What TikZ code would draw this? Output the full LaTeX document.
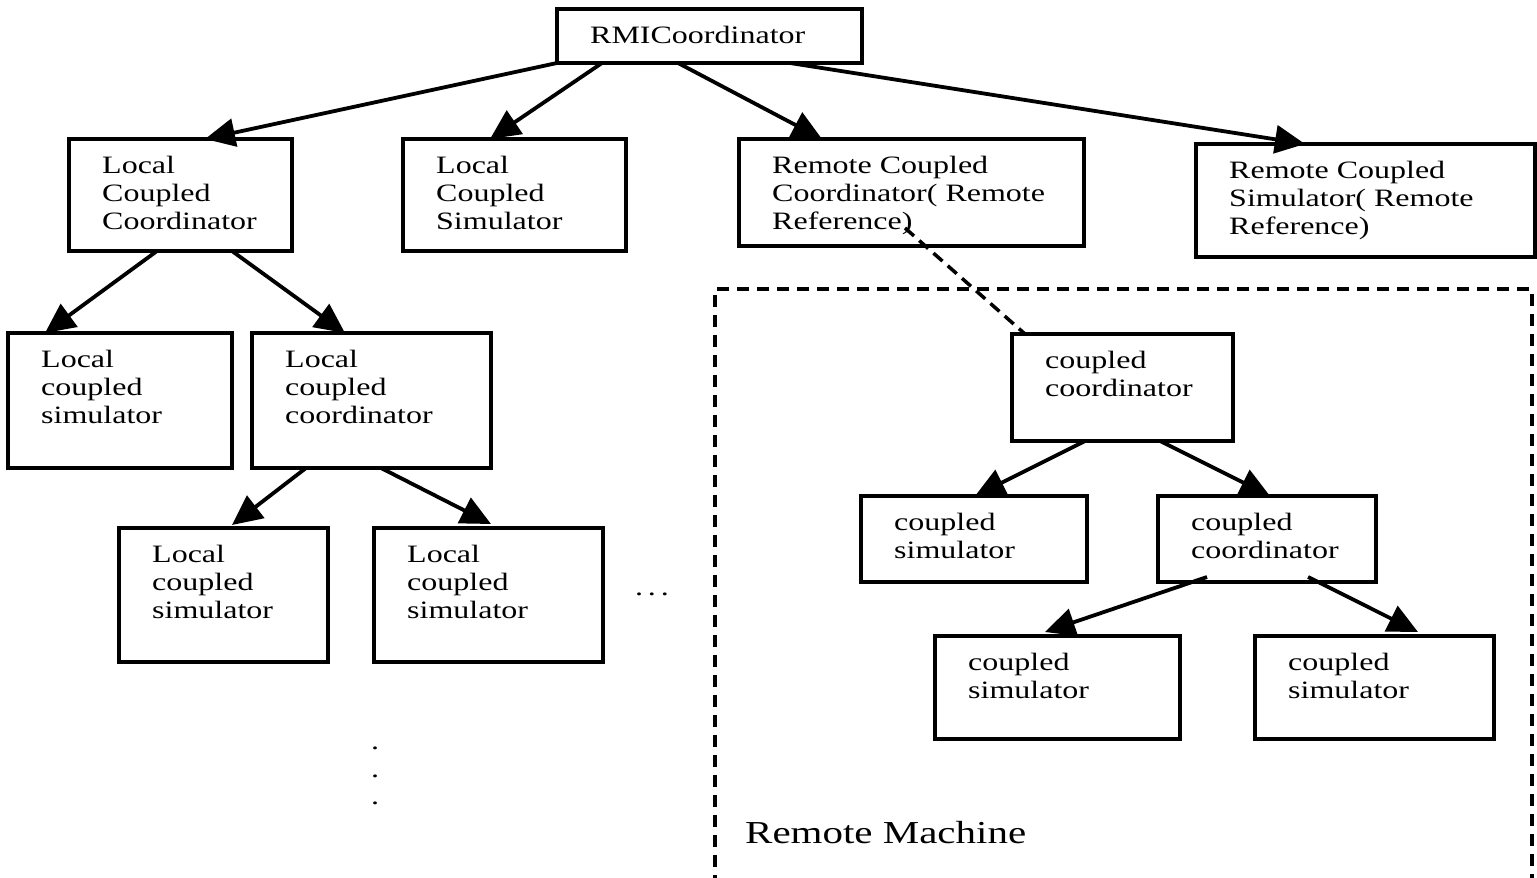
\documentclass[tikz,border=0pt]{standalone}
\usepackage{fontspec}
\setmainfont{Liberation Serif}[FakeStretch=1.28]
\usetikzlibrary{arrows.meta,calc}

\tikzset{
  box/.style={draw, line width=3.2pt, rectangle, inner sep=0pt, outer sep=0pt, anchor=north west},
  lbl/.style={anchor=north west, inner sep=0pt, align=left, font=\fontsize{25}{28}\selectfont},
  link/.style={line width=3.8pt, -{Triangle[length=30pt,width=28pt]}},
  remoteref/.style={line width=3.5pt, dash pattern=on 12pt off 7pt},
  region/.style={draw, line width=3.5pt, dash pattern=on 12pt off 8pt, rectangle, inner sep=0pt, anchor=north west},
}

% \unitbox{name}{x}{y}{width}{height}{text}
\newcommand\unitbox[6]{%
  \node[box, minimum width=#4pt, minimum height=#5pt] (#1) at (#2,#3) {};
  \node[lbl] (#1-t) at ($(#1.north west)+(33,17)$) {#6};
}

\begin{document}
\begin{tikzpicture}[x=1pt, y=-1pt]
  \useasboundingbox[fill=white] (0,0) rectangle (1537,878);

  % remote machine region (open at the bottom of the page)
  \node[region, minimum width=817pt, minimum height=640pt] (remote) at (713,287) {};
  \node[anchor=north west, inner sep=0pt, font=\fontsize{32}{36}\selectfont] (remote-t) at (745,821) {Remote Machine};

  % top level
  \unitbox{rmi}{557}{9}{305}{54}{RMICoordinator}
  \unitbox{lcc}{69}{139}{223}{112}{Local\\Coupled\\Coordinator}
  \unitbox{lcs}{403}{139}{223}{112}{Local\\Coupled\\Simulator}
  \unitbox{rcc}{739}{139}{345}{107}{Remote Coupled\\Coordinator( Remote\\Reference)}
  \unitbox{rcs}{1196}{144}{339}{113}{Remote Coupled\\Simulator( Remote\\Reference)}

  % local subtree
  \unitbox{lcs1}{8}{333}{224}{135}{Local\\coupled\\simulator}
  \unitbox{lcc1}{252}{333}{239}{135}{Local\\coupled\\coordinator}
  \unitbox{lcs2}{119}{528}{209}{134}{Local\\coupled\\simulator}
  \unitbox{lcs3}{374}{528}{229}{134}{Local\\coupled\\simulator}

  % remote subtree
  \unitbox{cc}{1012}{334}{221}{107}{coupled\\coordinator}
  \unitbox{cs1}{861}{496}{226}{86}{coupled\\simulator}
  \unitbox{cc2}{1158}{496}{218}{86}{coupled\\coordinator}
  \unitbox{cs2}{935}{636}{245}{103}{coupled\\simulator}
  \unitbox{cs3}{1255}{636}{239}{103}{coupled\\simulator}

  % ellipses
  \node[inner sep=0pt, font=\fontsize{25}{28}\selectfont] (hdots) at (652,594) {.\hspace{5pt}.\hspace{5pt}.};
  \node[inner sep=0pt, align=center, font=\fontsize{25}{27.5}\selectfont] (vdots) at (375,776) {.\\.\\.};

  % connectors
  \draw[link] (rmi.south west) -- ($(lcc.north west)+(136,0)$);
  \draw[link] ($(rmi.south west)+(45,0)$) -- ($(lcs.north west)+(87,0)$);
  \draw[link] ($(rmi.south west)+(121,0)$) -- ($(rcc.north west)+(83,0)$);
  \draw[link] ($(rmi.south west)+(233,0)$) -- ($(rcs.north west)+(109,0)$);

  \draw[link] ($(lcc.south west)+(88,0)$) -- ($(lcs1.north west)+(37,0)$);
  \draw[link] ($(lcc.south west)+(163,0)$) -- ($(lcc1.north west)+(93,0)$);
  \draw[link] ($(lcc1.south west)+(54,0)$) -- ($(lcs2.north west)+(113,-3)$);
  \draw[link] ($(lcc1.south west)+(129,0)$) -- ($(lcs3.north west)+(117,-4)$);

  \draw[remoteref] ($(rcc.south west)+(166,-18)$) -- ($(cc.north west)+(13,0)$);

  \draw[link] ($(cc.south west)+(73,0)$) -- ($(cs1.north west)+(114,0)$);
  \draw[link] ($(cc.south west)+(148,0)$) -- ($(cc2.north west)+(112,0)$);
  \draw[link] ($(cc2.south west)+(49,-5)$) -- ($(cs2.north west)+(110,-4)$);
  \draw[link] ($(cc2.south west)+(150,-5)$) -- ($(cs3.north west)+(163,-4)$);
\end{tikzpicture}
\end{document}
